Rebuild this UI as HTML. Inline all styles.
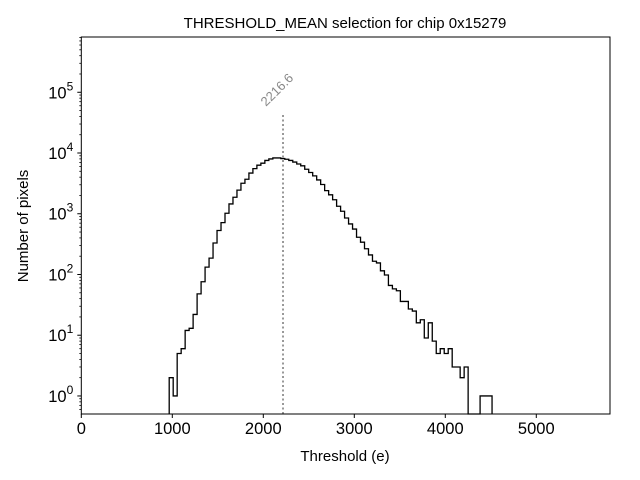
<!DOCTYPE html>
<html><head><meta charset="utf-8"><style>
body{margin:0;background:#fff}
svg{display:block;font-family:"Liberation Sans","DejaVu Sans",sans-serif}
</style></head><body>
<svg id="chart" width="640" height="480" viewBox="0 0 640 480">
<rect width="640" height="480" fill="#fff"/>
<text x="345" y="28" text-anchor="middle" font-size="15">THRESHOLD_MEAN selection for chip 0x15279</text>
<g id="plot"></g>
<text x="345" y="461" text-anchor="middle" font-size="15">Threshold (e)</text>
<text transform="translate(28,226) rotate(-90)" text-anchor="middle" font-size="15">Number of pixels</text>
</svg>
<script>
const binStart = 966;
const binWidth = 43.8;
const counts = [2,1,5,6,12,13,22,48,76,132,186,330,530,715,1020,1450,1870,2450,3180,3700,4680,5540,6300,6800,7540,7980,8300,8300,8100,7900,7540,7100,6600,6150,5400,4780,4200,3600,3030,2400,2050,1700,1330,
1100,850,680,560,410,340,265,210,165,155,115,98,66,58,54,36,36,27,25,16,18,9,16,8,5,6,5,6,3,3,2,3,0,0,0,1,1,1];
const meanValue = 2216.6;
const meanLineTop = 44000;
const xTicks = [0,1000,2000,3000,4000,5000];
const yTickExps = [0,1,2,3,4,5];

const L=81.3,R=610,T=37,B=414;
const xMin=0,xMax=5810,yMinLog=-0.297,yMaxLog=5.91;
const xs=v=>L+(v-xMin)/(xMax-xMin)*(R-L);
const ys=v=>B-(Math.log10(v)-yMinLog)/(yMaxLog-yMinLog)*(B-T);
const NS='http://www.w3.org/2000/svg';
const g=document.getElementById('plot');
function mk(t,a){const e=document.createElementNS(NS,t);for(const k in a)e.setAttribute(k,a[k]);g.appendChild(e);return e;}

let d='';
const base=B;
for(let i=0;i<counts.length;i++){
  const x0=xs(binStart+i*binWidth),x1=xs(binStart+(i+1)*binWidth);
  const y=counts[i]>0?ys(counts[i]):base;
  if(i===0)d+=`M${x0},${base}`;
  d+=`L${x0},${y}L${x1},${y}`;
}
d+=`L${xs(binStart+counts.length*binWidth)},${base}`;
const h=mk('path',{d:d,fill:'none',stroke:'#000','stroke-width':1.3});



const ml=mk('line',{x1:xs(meanValue),x2:xs(meanValue),y1:B,y2:ys(meanLineTop),stroke:'#777','stroke-width':1.5,'stroke-dasharray':'2,2.5'});


const mt=mk('text',{x:xs(meanValue)-17,y:ys(meanLineTop)-7,fill:'#888','font-size':13,transform:`rotate(-45 ${xs(meanValue)-17} ${ys(meanLineTop)-7})`});
mt.textContent=meanValue.toFixed(1);



const fr=mk('rect',{x:L,y:T,width:R-L,height:B-T,fill:'none',stroke:'#000','stroke-width':1});



xTicks.forEach(v=>{
  const x=xs(v);
  const t=mk('line',{x1:x,x2:x,y1:B,y2:B+4,stroke:'#000'});
  
  
  const l=mk('text',{x:x,y:B+20,'text-anchor':'middle','font-size':16.5});
  l.textContent=v;
  
  
});
yTickExps.forEach(e=>{
  const y=ys(Math.pow(10,e));
  const t=mk('line',{x1:L-4,x2:L,y1:y,y2:y,stroke:'#000'});
  
  
  const l=mk('text',{x:L-8,y:y+6,'text-anchor':'end','font-size':16.5});
  l.innerHTML='10<tspan dy="-8" font-size="12">'+e+'</tspan>';
  
  
});
for(let e=-1;e<=5;e++){for(let m=2;m<=9;m++){
  const v=m*Math.pow(10,e);const lv=Math.log10(v);
  if(lv<yMinLog||lv>yMaxLog)continue;
  const y=ys(v);
  const t=mk('line',{x1:L-2,x2:L,y1:y,y2:y,stroke:'#000','stroke-width':0.8});
  
  
}}
</script>
</body></html>
